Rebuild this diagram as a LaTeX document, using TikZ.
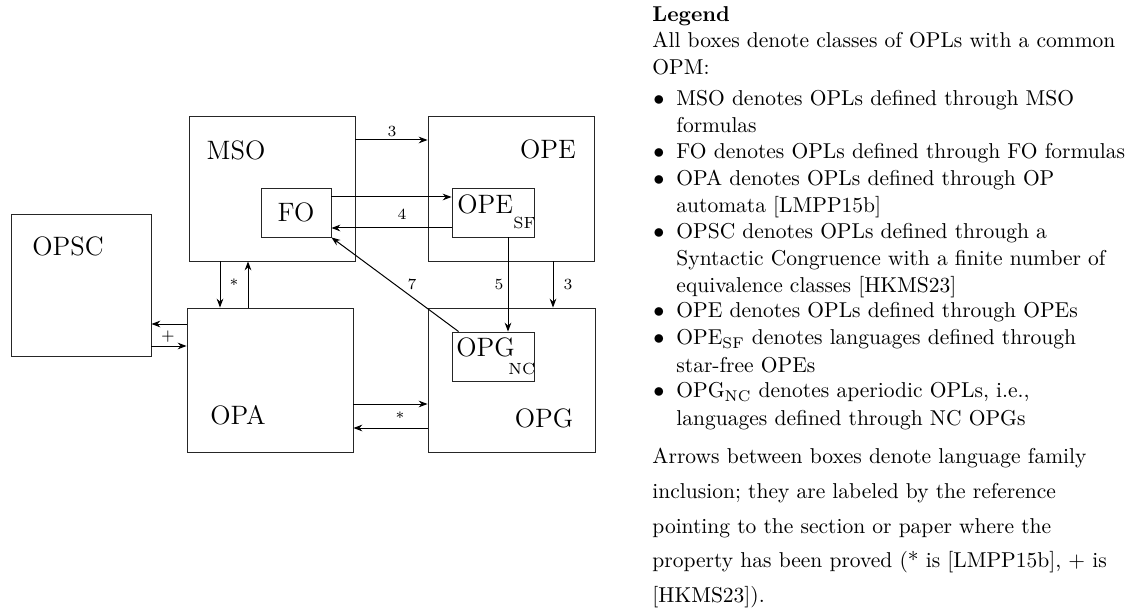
\documentclass[tikz,border=0pt]{standalone}
\usetikzlibrary{arrows.meta,fit,calc}
\begin{document}
\begin{tikzpicture}[x=0.451pt,y=-0.451pt,
  box/.style={draw=black!85,line width=0.4pt,inner sep=0pt},
  arr/.style={-{Stealth[length=4pt,width=3pt]},line width=0.45pt},
  lbl/.style={font=\large,inner sep=0pt},
  num/.style={font=\scriptsize,inner sep=0pt},
  subl/.style={font=\fontsize{7.3}{8}\selectfont,inner sep=0pt,anchor=base west},
  leg/.style={anchor=base west,inner sep=0pt,font=\fontsize{9.7}{12}\selectfont}]
\useasboundingbox (0,0) rectangle (1142,612);
% boxes
\node[box,fit={(189,116)(355,261)}] (mso) {};
\node[box,fit={(261,188)(331,237)}] (fo) {};
\node[box,fit={(428,116)(594,261)}] (ope) {};
\node[box,fit={(452,188)(534,237)}] (opesf) {};
\node[box,fit={(11,214)(151,356)}] (opsc) {};
\node[box,fit={(187,308)(353,452)}] (opa) {};
\node[box,fit={(428,308)(595,452)}] (opg) {};
\node[box,fit={(452,332)(534,381)}] (opgnc) {};
% box labels
\node[lbl] (tmso) at (236,150) {MSO};
\node[lbl] (tfo) at (296,212) {FO};
\node[lbl] (tope) at (548,149) {OPE};
\node[lbl] (topsc) at (68,246) {OPSC};
\node[lbl] (topa) at (238,415) {OPA};
\node[lbl] (topg) at (544,418) {OPG};
\node[lbl,anchor=base west] (topesf) at (457,214) {OPE};
\node[subl] (tsf) at (513,229) {SF};
\node[lbl,anchor=base west] (topgnc) at (456,357) {OPG};
\node[subl] (tnc) at (508,374) {NC};
% helper coordinates
\coordinate (h1) at (0,140);
\coordinate (h2) at (0,197);
\coordinate (h3) at (0,228);
\coordinate (h4) at (0,324);
\coordinate (h5) at (0,346);
\coordinate (h6) at (0,404);
\coordinate (h7) at (0,428);
\coordinate (v1) at (220,0);
\coordinate (v2) at (248,0);
\coordinate (v3) at (508,0);
\coordinate (v4) at (553,0);
% connectors
\draw[arr] (mso.east |- h1) -- (ope.west |- h1);
\draw[arr] (fo.east |- h2) -- (opesf.west |- h2);
\draw[arr] (opesf.west |- h3) -- (fo.east |- h3);
\draw[arr] (mso.south -| v1) -- (opa.north -| v1);
\draw[arr] (opa.north -| v2) -- (mso.south -| v2);
\draw[arr] (opa.west |- h4) -- (opsc.east |- h4);
\draw[arr] (opsc.east |- h5) -- (opa.west |- h5);
\draw[arr] (opa.east |- h6) -- (opg.west |- h6);
\draw[arr] (opg.west |- h7) -- (opa.east |- h7);
\draw[arr] (opesf.south -| v3) -- (opgnc.north -| v3);
\draw[arr] (ope.south -| v4) -- (opg.north -| v4);
\draw[arr] ($(opgnc.north west)+(7,0)$) -- (fo.south east);
% connector labels
\node[num] (n3a) at (392,132) {3};
\node[num] (n4) at (402,214) {4};
\node[num] (s1) at (234,285) {*};
\node[num] (p1) at (168,337) {+};
\node[num] (s2) at (400,418) {*};
\node[num] (n5) at (499,285) {5};
\node[num] (n3b) at (568,285) {3};
\node[num] (n7) at (412,284) {7};
% legend
\node[leg] (l1) at (652,22) {\textbf{Legend}};
\node[leg] (l2) at (652,48) {All boxes denote classes of OPLs with a common};
\node[leg] (l3) at (652,75) {OPM:};
\node[leg] (b1) at (653,106) {$\bullet$};
\node[leg] (l4) at (676,106) {MSO denotes OPLs defined through MSO};
\node[leg] (l5) at (676,133) {formulas};
\node[leg] (b2) at (653,159) {$\bullet$};
\node[leg] (l6) at (676,159) {FO denotes OPLs defined through FO formulas};
\node[leg] (b3) at (653,186) {$\bullet$};
\node[leg] (l7) at (676,186) {OPA denotes OPLs defined through OP};
\node[leg] (l8) at (676,213) {automata [LMPP15b]};
\node[leg] (b4) at (653,239) {$\bullet$};
\node[leg] (l9) at (676,239) {OPSC denotes OPLs defined through a};
\node[leg] (l10) at (676,266) {Syntactic Congruence with a finite number of};
\node[leg] (l11) at (676,293) {equivalence classes [HKMS23]};
\node[leg] (b5) at (653,318) {$\bullet$};
\node[leg] (l12) at (676,318) {OPE denotes OPLs defined through OPEs};
\node[leg] (b6) at (653,345) {$\bullet$};
\node[leg] (l13) at (676,345) {OPE$_{\mathrm{SF}}$ denotes languages defined through};
\node[leg] (l14) at (676,372) {star-free OPEs};
\node[leg] (b7) at (653,398) {$\bullet$};
\node[leg] (l15) at (676,398) {OPG$_{\mathrm{NC}}$ denotes aperiodic OPLs, i.e.,};
\node[leg] (l16) at (676,425) {languages defined through NC OPGs};
\node[leg] (l17) at (652,463) {Arrows between boxes denote language family};
\node[leg] (l18) at (652,498) {inclusion; they are labeled by the reference};
\node[leg] (l19) at (652,533) {pointing to the section or paper where the};
\node[leg] (l20) at (652,567) {property has been proved (* is [LMPP15b], + is};
\node[leg] (l21) at (652,602) {[HKMS23]).};
\end{tikzpicture}
\end{document}
